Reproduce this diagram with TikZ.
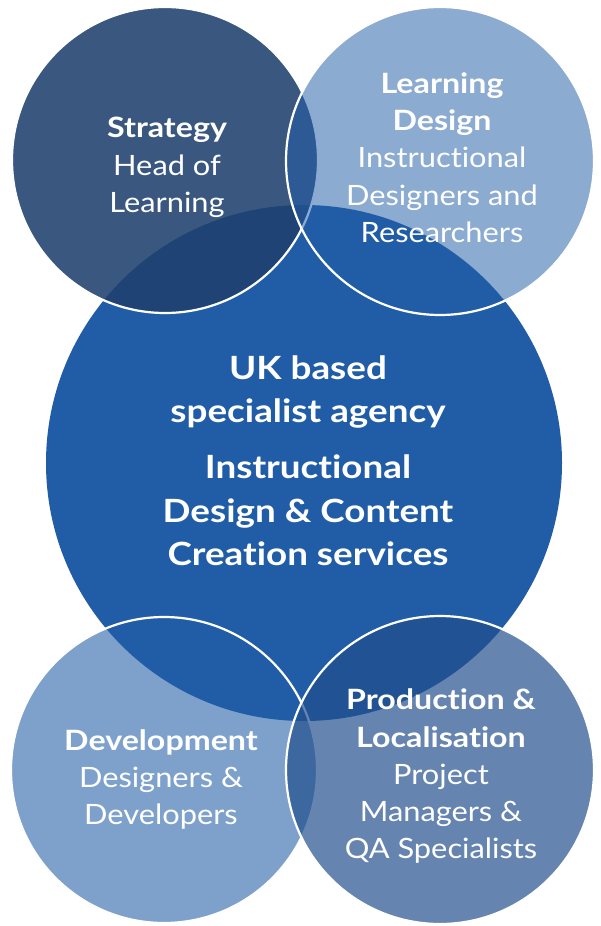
\documentclass[tikz,border=0pt]{standalone}
\usepackage{fontspec}
\setmainfont{Lato}[FakeStretch=1.1, BoldFeatures={FakeStretch=1.15}, Ligatures={NoCommon}]
\newcommand{\nolig}{\kern0pt\relax}
\definecolor{bigblue}{RGB}{33,93,167}
\definecolor{stratcol}{RGB}{31,64,110}
\definecolor{prodcol}{RGB}{32,78,140}
\tikzset{
  small/.style={font=\fontsize{28}{28}\selectfont, text=white, text height=23pt, text depth=5pt, inner sep=0pt},
  smallb/.style={small, font=\fontsize{28}{28}\selectfont\bfseries},
  bigb/.style={font=\fontsize{32}{32}\selectfont\bfseries, text=white, text height=30pt, text depth=5pt, inner sep=0pt},
  ring/.style={draw=white, line width=2.2pt},
}
\begin{document}
\begin{tikzpicture}[x=1pt,y=-1pt]
\useasboundingbox (0,0) rectangle (600,926);
% big circle
\fill[bigblue] (304,463) circle[radius=258];
% top circles
\path[fill=stratcol, fill opacity=0.88, ring] (165,160) circle[radius=153];
\path[fill=bigblue, fill opacity=0.52, ring] (440,161) circle[radius=154];
% bottom circles
\path[fill=bigblue, fill opacity=0.58, ring] (164,770) circle[radius=153];
\path[fill=prodcol, fill opacity=0.69, ring] (440,770) circle[radius=154];
% texts
\node[smallb] (s1) at (167,128) {Strategy};
\node[small] (s2) at (167,166) {Head of};
\node[small] (s3) at (167,203) {Learning};
\node[smallb] (l1) at (442,84) {Learning};
\node[smallb] (l2) at (442,121) {Design};
\node[small] (l3) at (442,158) {Instruct\nolig ional};
\node[small] (l4) at (442,196) {Designers and};
\node[small] (l5) at (442,233) {Researchers};
\node[bigb] (c1) at (308,367) {UK based};
\node[bigb] (c2) at (308,410) {specialist agency};
\node[bigb] (c3) at (308,466) {Instruct\nolig ional};
\node[bigb] (c4) at (308,510) {Design \& Content};
\node[bigb] (c5) at (308,553) {Creation services};
\node[smallb] (d1) at (161,741) {Development};
\node[small] (d2) at (161,778) {Designers \&};
\node[small] (d3) at (161,815) {Developers};
\node[smallb] (p1) at (441,700) {Production \&};
\node[smallb] (p2) at (441,738) {Localisat\nolig ion};
\node[small] (p3) at (441,775) {Project};
\node[small] (p4) at (441,812) {Managers \&};
\node[small] (p5) at (441,849) {QA Specialists};
\end{tikzpicture}
\end{document}
